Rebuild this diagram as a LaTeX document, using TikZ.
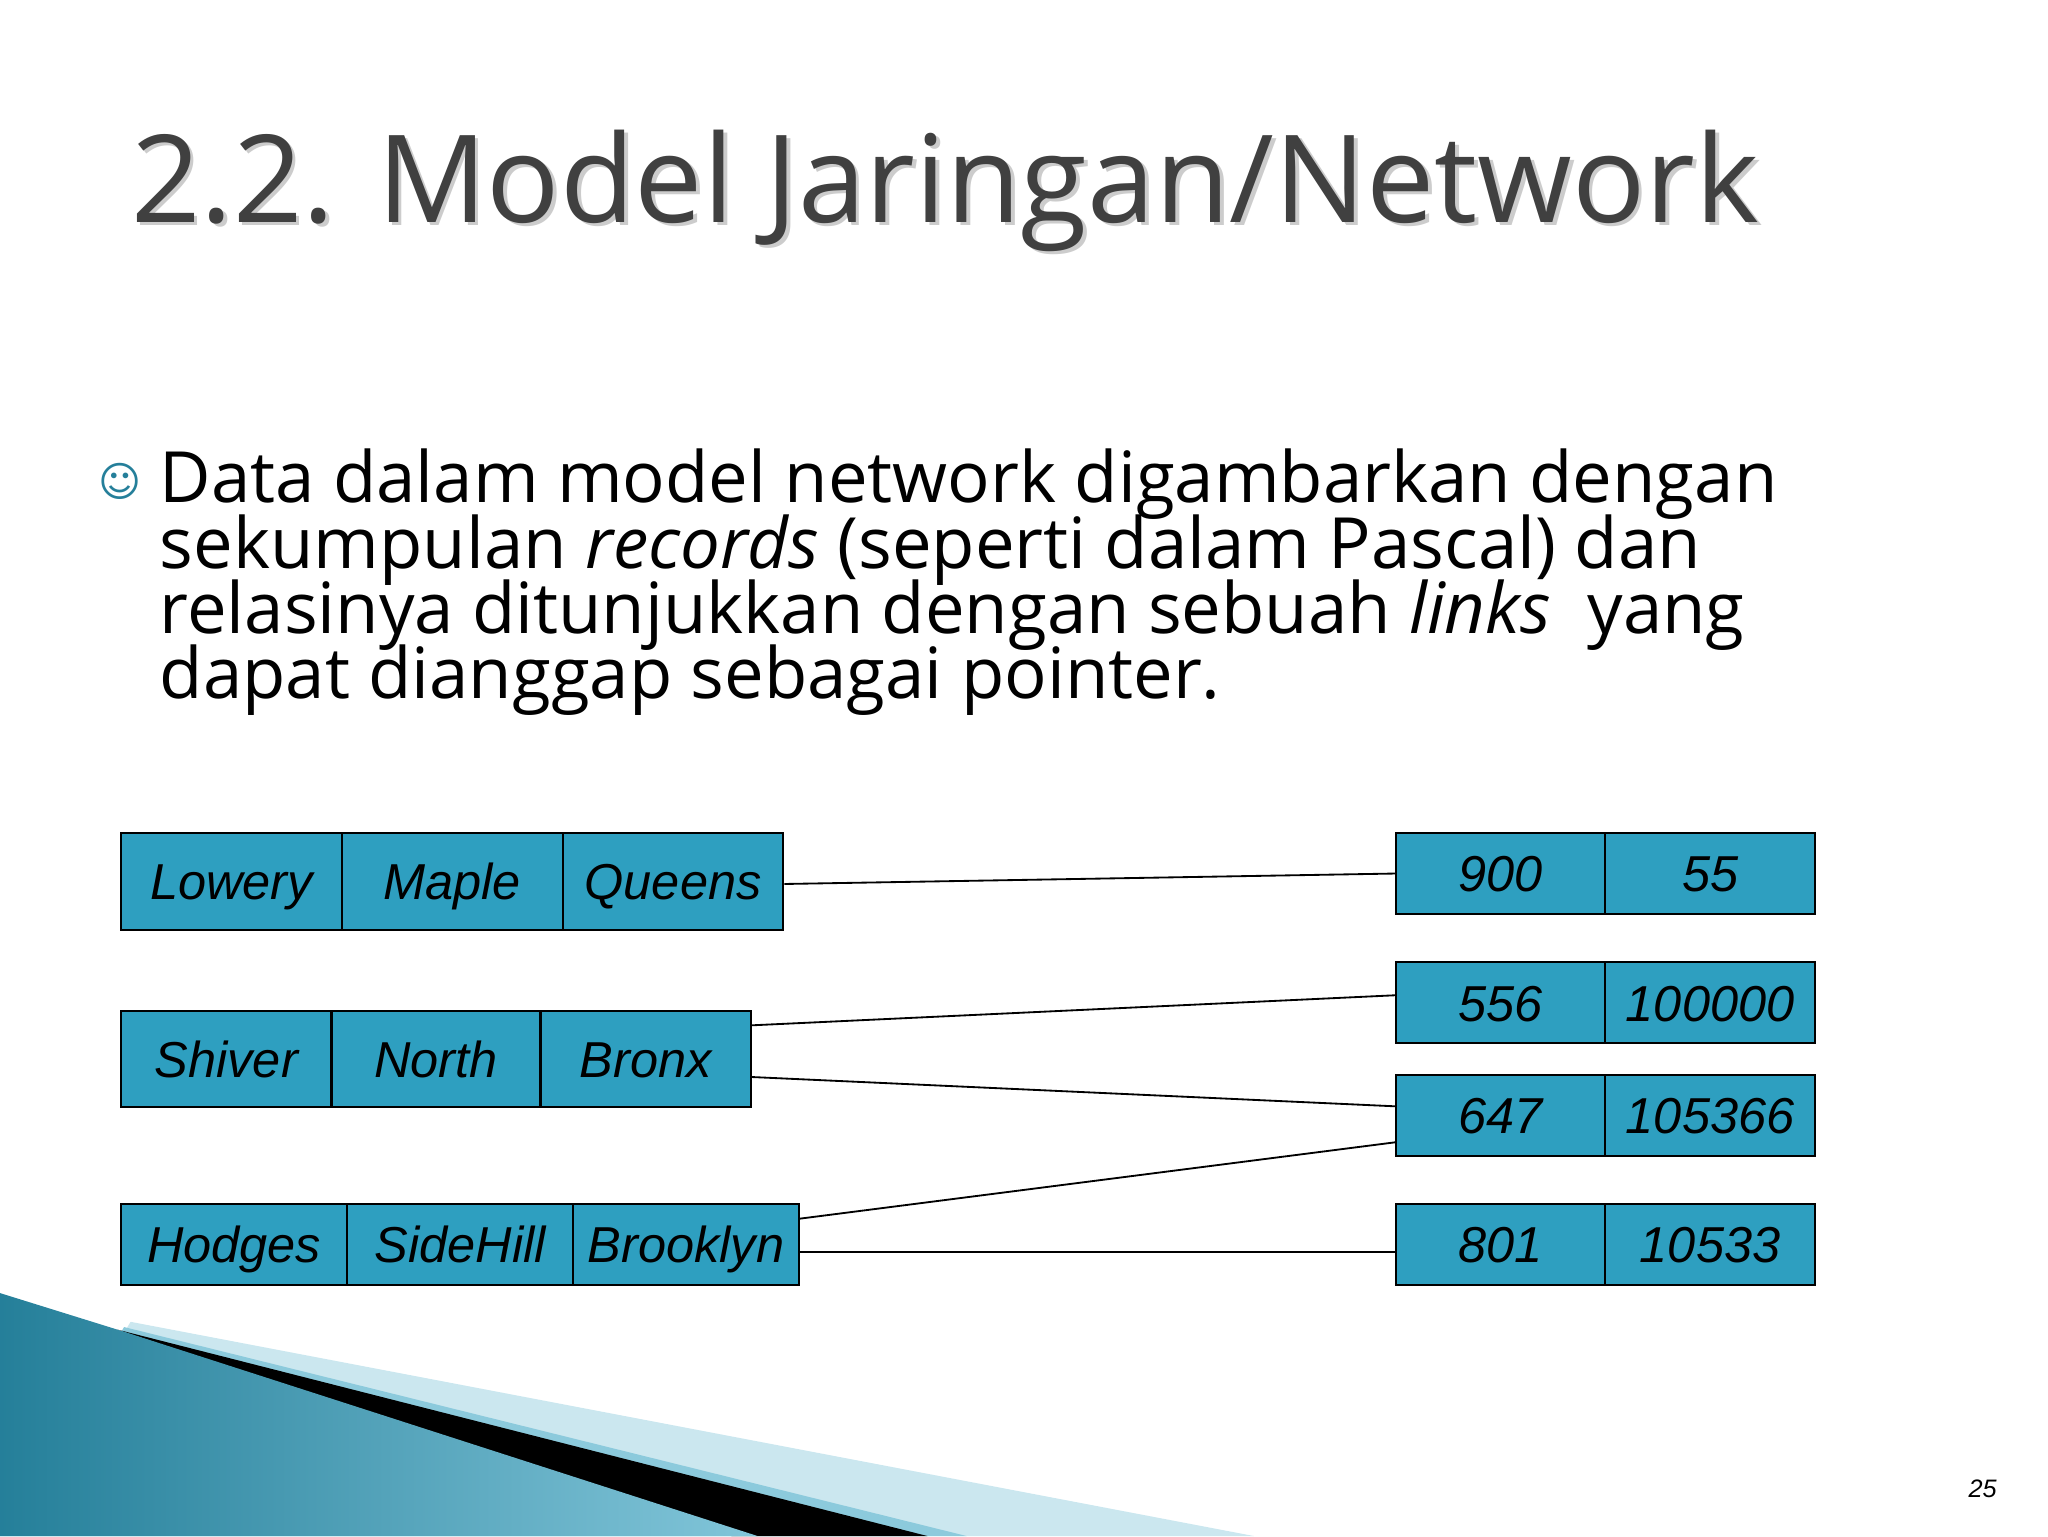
\documentclass[tikz,border=0pt]{standalone}
\usepackage{fontspec}
\setmainfont{Open Sans}
\newfontfamily\arialf{Liberation Sans}
\newfontfamily\symf{DejaVu Sans}
\definecolor{cellc}{HTML}{2E9FC0}
\definecolor{titlec}{HTML}{404040}
\tikzset{
 cell/.style={draw=black, fill=cellc, line width=0.9pt, minimum height=#1*0.2mm, inner sep=0pt, text height=16pt, text depth=0pt, font=\arialf\itshape\fontsize{22}{25}\selectfont, anchor=north west},
 link/.style={draw=black, line width=0.8pt},
 bodytxt/.style={anchor=base west, inner sep=0pt, font=\fontsize{30.8}{34}\selectfont}
}
\begin{document}
\begin{tikzpicture}[x=0.2mm,y=-0.2mm]
\useasboundingbox (0,0) rectangle (1568,1176);
% bottom decoration
\fill[cellc!25!white] (100,1012) -- (960,1176) -- (0,1176) -- cycle;
\fill[cellc!55!white] (95,1016) -- (740,1176) -- (0,1176) -- cycle;
\fill[black] (90,1018) -- (710,1176) -- (560,1176) -- cycle;
\shade[left color=cellc!80!black, right color=cellc!60!white] (0,990) -- (90,1018) -- (580,1176) -- (0,1176) -- cycle;
% title
\node[anchor=base west, text=gray!40, font=\fontsize{53}{60}\selectfont, inner sep=0pt] at (103,173) {2.2. Model Jaringan/Network};
\node[anchor=base west, text=titlec, font=\fontsize{53}{60}\selectfont, inner sep=0pt] (title) at (100,170) {2.2. Model Jaringan/Network};
% bullet
\node[anchor=base, text=cellc!80!black, font=\symf\fontsize{18}{20}\selectfont] (bul) at (92,380) {☺};
\node[bodytxt] (t1) at (122,385) {Data dalam model network digambarkan dengan};
\node[bodytxt] (t2) at (122,435) {sekumpulan \textit{records} (seperti dalam Pascal) dan};
\node[bodytxt] (t3) at (122,485) {relasinya ditunjukkan dengan sebuah \textit{links}\ \ yang};
\node[bodytxt] (t4) at (122,535) {dapat dianggap sebagai pointer.};
% left records
\node[cell=74, minimum width=169*0.2mm] (a1) at (92,637) {Lowery};
\node[cell=74, minimum width=169*0.2mm] (a2) at (261,637) {Maple};
\node[cell=74, minimum width=169*0.2mm] (a3) at (430,637) {Queens};
\node[cell=74, minimum width=161*0.2mm] (b1) at (92,773) {Shiver};
\node[cell=74, minimum width=160*0.2mm] (b2) at (253,773) {North};
\node[cell=74, minimum width=161*0.2mm] (b3) at (413,773) {Bronx};
\node[cell=62, minimum width=173*0.2mm] (c1) at (92,921) {Hodges};
\node[cell=62, minimum width=173*0.2mm] (c2) at (265,921) {SideHill};
\node[cell=62, minimum width=173*0.2mm] (c3) at (438,921) {Brooklyn};
% right records
\foreach \n/\y/\p/\q in {r1/637/900/55, r2/736/556/100000, r3/822/647/105366, r4/921/801/10533}{
 \node[cell=62, minimum width=160*0.2mm] (\n a) at (1068,\y) {\p};
 \node[cell=62, minimum width=161*0.2mm] (\n b) at (1228,\y) {\q};
}
% links
\draw[link] ([yshift=-2*0.2mm]a3.east) -- (r1a.west);
\draw[link] ([yshift=-12*0.2mm]b3.north east) -- ([yshift=-26*0.2mm]r2a.north west);
\draw[link] ([yshift=24*0.2mm]b3.south east) -- ([yshift=-25*0.2mm]r3a.north west);
\draw[link] ([yshift=-12*0.2mm]c3.north east) -- ([yshift=11*0.2mm]r3a.south west);
\draw[link] ([yshift=-6*0.2mm]c3.east) -- ([yshift=-6*0.2mm]r4a.west);
% page number
\node[font=\arialf\itshape\fontsize{11}{12}\selectfont] (pg) at (1518,1140) {25};
\end{tikzpicture}
\end{document}
